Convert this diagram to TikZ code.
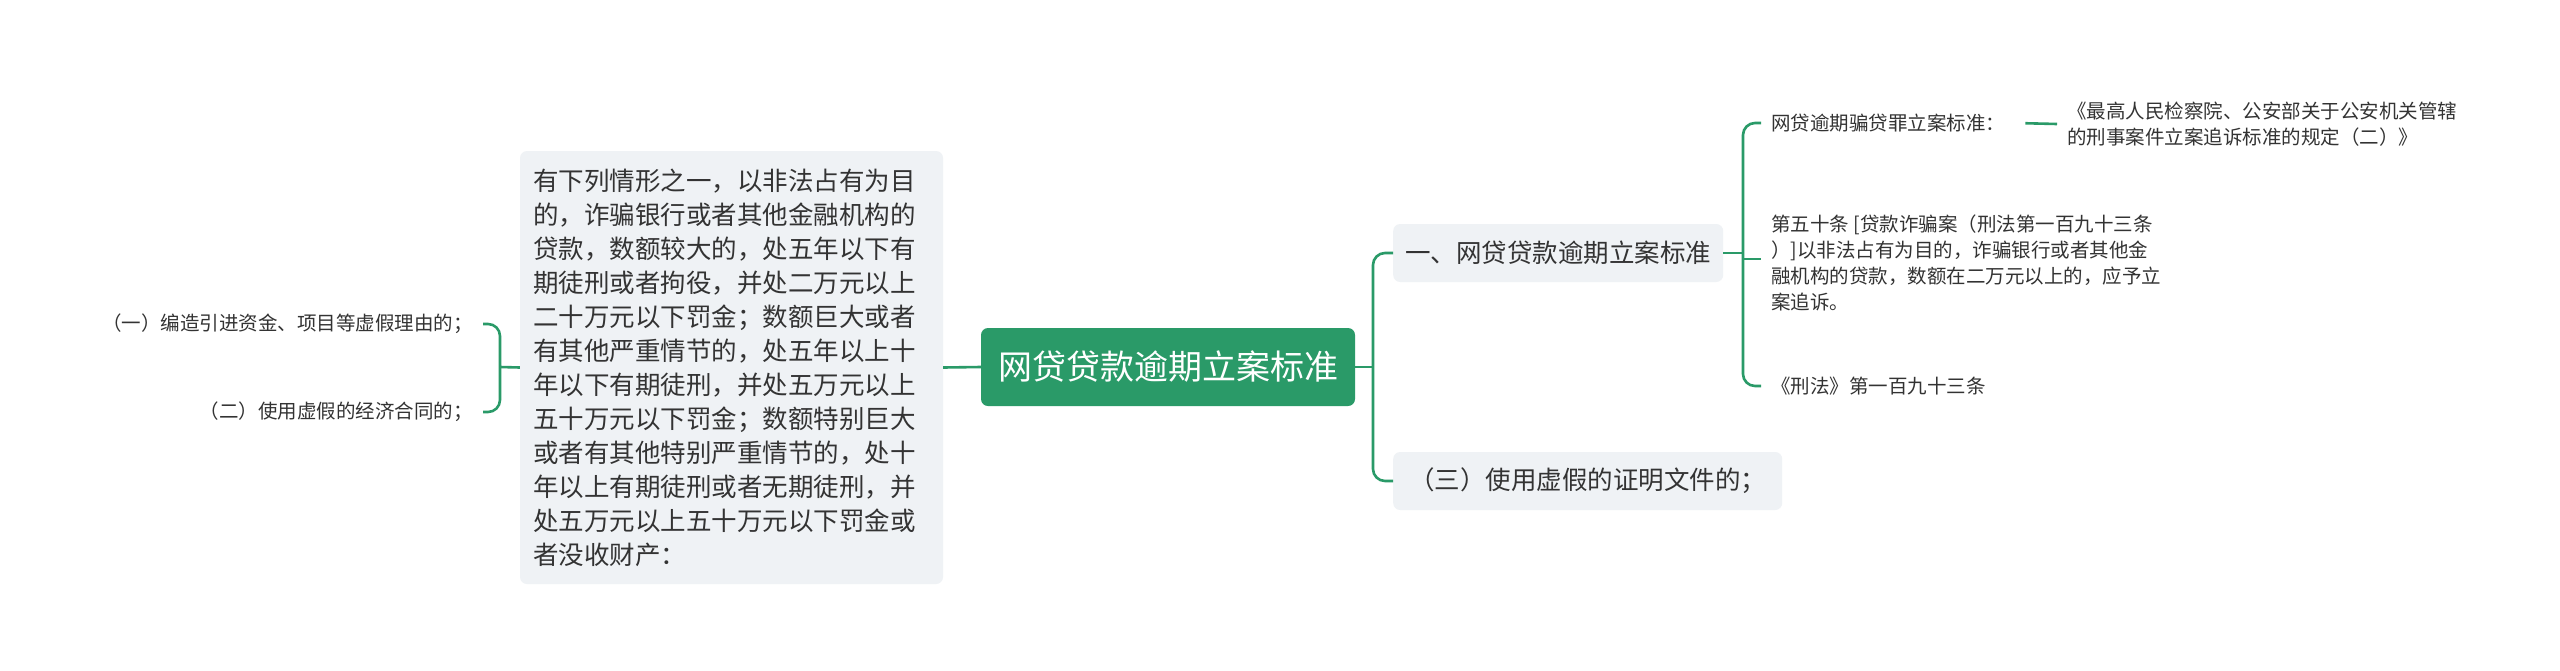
\documentclass[tikz,border=0pt]{standalone}
\usepackage{fontspec}
\setmainfont{Noto Sans CJK SC}
\usepackage{tikz}
\usetikzlibrary{positioning}
\usepackage{xcolor}
\definecolor{mapGreen}{HTML}{2A9A68}
\definecolor{boxGray}{HTML}{EFF2F5}
\definecolor{inkGray}{HTML}{333333}

\begin{document}
\begin{tikzpicture}[x=1pt, y=-1pt,
    rootNode/.style={rectangle, rounded corners=7pt, fill=mapGreen, text=white, font=\fontsize{34}{40}\selectfont, minimum width=374pt, minimum height=78pt, inner sep=0pt},
    topicNode/.style={rectangle, rounded corners=7pt, fill=boxGray, text=inkGray, font=\fontsize{25.5}{34}\selectfont, minimum height=58pt, inner xsep=12pt, inner ysep=0pt},
    noteNode/.style={rectangle, rounded corners=7pt, fill=boxGray, text=inkGray, font=\fontsize{25.5}{34}\selectfont, text width=397pt, align=left, minimum height=433pt, inner xsep=13pt},
    leafNode/.style={text=inkGray, font=\fontsize{19.5}{26}\selectfont, inner xsep=10pt, inner ysep=2pt, align=left},
    treeLink/.style={draw=mapGreen, line width=2.6pt, rounded corners=12pt}
]
    \useasboundingbox[fill=white] (0,0) rectangle (2560,670);

    % Central topic
    \node[rootNode] (root) at (1168,367) {网贷贷款逾期立案标准};

    % Left branch
    \node[noteNode] (note) at (731.5,367.5) {有下列情形之一，以非法占有为目\\
        的，诈骗银行或者其他金融机构的\\
        贷款，数额较大的，处五年以下有\\
        期徒刑或者拘役，并处二万元以上\\
        二十万元以下罚金；数额巨大或者\\
        有其他严重情节的，处五年以上十\\
        年以下有期徒刑，并处五万元以上\\
        五十万元以下罚金；数额特别巨大\\
        或者有其他特别严重情节的，处十\\
        年以上有期徒刑或者无期徒刑，并\\
        处五万元以上五十万元以下罚金或\\
        者没收财产：};
    \node[leafNode, anchor=east] (way1) at (483,324) {（一）编造引进资金、项目等虚假理由的；};
    \node[leafNode, anchor=east] (way2) at (483,412) {（二）使用虚假的经济合同的；};

    % Right branch
    \node[topicNode, anchor=west] (std)  at (1393,253) {一、网贷贷款逾期立案标准};
    \node[topicNode, anchor=west, minimum width=389pt] (way3) at (1393,481) {（三）使用虚假的证明文件的；};

    \node[leafNode, anchor=west] (crime) at (1761,123) {网贷逾期骗贷罪立案标准：};
    \node[leafNode, anchor=west] (rule)  at (2057,124) {《最高人民检察院、公安部关于公安机关管辖\\的刑事案件立案追诉标准的规定（二）》};
    \node[leafNode, anchor=west] (art50) at (1761,263) {第五十条 [贷款诈骗案（刑法第一百九十三条\\）]以非法占有为目的，诈骗银行或者其他金\\融机构的贷款，数额在二万元以上的，应予立\\案追诉。};
    \node[leafNode, anchor=west] (law)   at (1761,386) {《刑法》第一百九十三条};

    % Hubs
    \coordinate (hubL) at (500,367);
    \coordinate (hubR) at (1373,367);
    \coordinate (hubS) at (1743,253);

    % Links
    \draw[treeLink] (root.west) -- (note.east);
    \draw[treeLink] (note.west) -- (hubL);
    \draw[treeLink] (way1.east) -| (hubL) |- (way2.east);

    \draw[treeLink] (root.east) -- (hubR);
    \draw[treeLink] (std.west) -| (hubR) |- (way3.west);

    \draw[treeLink] (std.east) -- (hubS);
    \draw[treeLink] (crime.west) -| (hubS) |- (law.west);
    \draw[treeLink] (hubS |- 0,259) -- (art50.west |- 0,259);
    \draw[treeLink, shorten <=10pt] (crime.east) -- (rule.west);
\end{tikzpicture}
\end{document}
